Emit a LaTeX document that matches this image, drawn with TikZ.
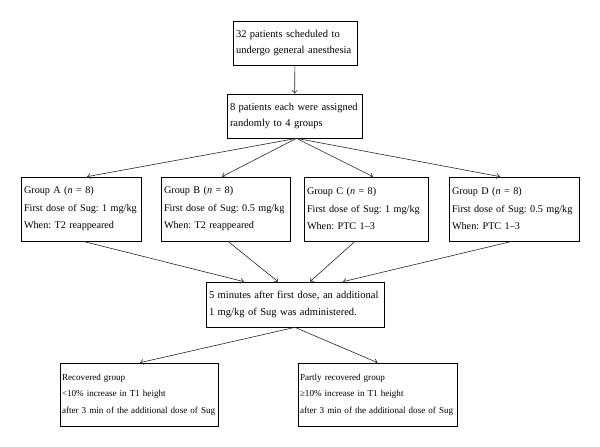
\documentclass[tikz,border=0pt]{standalone}
\usepackage{fontspec}
\setmainfont{Liberation Serif}
\usetikzlibrary{arrows.meta}
\hyphenpenalty=10000
\exhyphenpenalty=10000

\begin{document}
\begin{tikzpicture}[x=1pt, y=-1pt, >={Straight Barb[length=3pt,width=5pt]},
	box/.style={draw, line width=0.7pt, align=left, inner xsep=3pt, inner ysep=0pt},
	big/.style={font={\fontsize{10.5}{16.5}\selectfont\frenchspacing}},
	grp/.style={font={\fontsize{10.2}{17.5}\selectfont\frenchspacing}, minimum height=64pt},
	res/.style={font={\fontsize{9.1}{16.5}\selectfont\frenchspacing}, minimum height=63pt, inner xsep=2pt},
	link/.style={->, line width=0.6pt, black!85}]
	\useasboundingbox (0,0) rectangle (600,447);
	\node[box, big, text width=118pt, minimum height=44pt] (start) at (295,43) {32 patients scheduled to\\undergo general anesthesia};
	\node[box, big, text width=129pt, minimum height=44pt] (assign) at (294.5,116) {8 patients each were assigned\\randomly to 4 groups};
	\node[box, grp, text width=114pt] (grpA) at (81,209) {Group A (\textit{n} = 8)\\First dose of Sug: 1 mg/kg\\When: T2 reappeared};
	\node[box, grp, text width=123pt] (grpB) at (225.5,209) {Group B (\textit{n} = 8)\\First dose of Sug: 0.5 mg/kg\\When: T2 reappeared};
	\node[box, grp, text width=118pt] (grpC) at (366,209) {Group C (\textit{n} = 8)\\First dose of Sug: 1 mg/kg\\When: PTC 1--3};
	\node[box, grp, text width=124pt] (grpD) at (514,209) {Group D (\textit{n} = 8)\\First dose of Sug: 0.5 mg/kg\\When: PTC 1--3};
	\node[box, big, text width=172pt, minimum height=45pt] (extra) at (295,304.5) {5 minutes after first dose, an additional\\1 mg/kg of Sug was administered.};
	\node[box, res, text width=154pt] (recov) at (139,394.5) {Recovered group\\<10\% increase in T1 height\\after 3 min of the additional dose of Sug};
	\node[box, res, text width=155pt] (partly) at (377.5,394.5) {Partly recovered group\\≥10\% increase in T1 height\\after 3 min of the additional dose of Sug};
	\draw[link] (start) -- (assign);
	\draw[link] ([xshift=2pt]assign.south) -- ([xshift=6pt]grpA.north);
	\draw[link] ([xshift=2pt]assign.south) -- ([xshift=-3.5pt]grpB.north);
	\draw[link] ([xshift=2pt]assign.south) -- ([xshift=7pt]grpC.north);
	\draw[link] ([xshift=2pt]assign.south) -- ([xshift=-14pt]grpD.north);
	\draw[link] ([xshift=2pt]grpA.south) -- ([xshift=-51pt]extra.north);
	\draw[link] ([xshift=2.5pt]grpB.south) -- ([xshift=-17pt]extra.north);
	\draw[link] ([xshift=-11pt]grpC.south) -- ([xshift=15pt]extra.north);
	\draw[link] ([xshift=-2pt]grpD.south) -- ([xshift=48pt]extra.north);
	\draw[link] (extra.south) -- ([xshift=1pt]recov.north);
	\draw[link] (extra.south) -- (partly.north);
\end{tikzpicture}
\end{document}
